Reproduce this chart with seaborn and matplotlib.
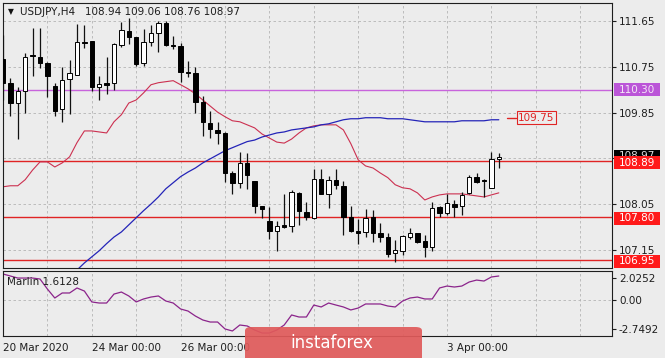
import numpy as np
import pandas as pd
import matplotlib
matplotlib.use('Agg')
import matplotlib.pyplot as plt
import seaborn as sns
from matplotlib.patches import Rectangle, FancyBboxPatch

# USDJPY H4 candles (20 Mar -> 6 Apr 2020)
opens = [110.91, 110.44, 110.04, 110.28, 110.97, 110.95, 110.83, 110.38, 109.92, 110.51,
         110.59, 111.24, 111.26, 110.36, 110.44, 110.44, 111.18, 111.46, 111.34, 110.83,
         111.24, 111.42, 111.62, 111.19, 111.16, 110.65, 110.63, 110.06, 109.65, 109.51,
         109.45, 108.66, 108.47, 108.86, 108.51, 108.01, 107.72, 107.52, 107.64, 107.62,
         108.27, 107.89, 107.78, 108.54, 108.25, 108.53, 108.41, 107.80, 107.52, 107.50,
         107.80, 107.48, 107.40, 107.09, 107.13, 107.40, 107.48, 107.32, 107.20, 107.99,
         107.87, 108.05, 108.01, 108.27, 108.58, 108.53, 108.37, 108.94]
highs = [111.38, 110.53, 110.36, 111.03, 111.52, 111.52, 110.85, 110.44, 110.75, 110.89,
         111.60, 111.58, 111.26, 110.57, 110.95, 111.22, 111.64, 111.72, 111.34, 111.50,
         111.58, 111.66, 111.66, 111.36, 111.22, 110.87, 110.75, 110.18, 109.88, 109.67,
         109.47, 108.70, 109.08, 109.06, 108.51, 108.01, 107.99, 107.72, 108.25, 108.33,
         108.29, 108.09, 108.74, 108.74, 108.60, 108.74, 108.51, 108.01, 107.76, 107.95,
         107.93, 107.68, 107.48, 107.34, 107.44, 107.58, 107.48, 107.44, 108.09, 108.01,
         108.25, 108.13, 108.29, 108.62, 108.66, 108.54, 109.08, 109.06]
lows = [110.10, 109.78, 109.33, 109.84, 110.57, 110.73, 110.16, 109.78, 109.67, 109.82,
        110.59, 111.12, 110.28, 110.10, 110.22, 110.30, 111.14, 111.20, 110.77, 110.77,
        111.16, 111.05, 111.16, 111.11, 110.46, 110.55, 109.84, 109.39, 109.35, 109.24,
        108.49, 108.25, 108.37, 108.35, 107.87, 107.78, 107.36, 107.13, 107.58, 107.50,
        107.64, 107.74, 107.76, 108.25, 107.97, 108.35, 107.44, 107.50, 107.27, 107.40,
        107.31, 107.31, 107.01, 106.91, 107.05, 107.36, 107.29, 107.01, 107.13, 107.80,
        107.83, 107.80, 107.83, 108.25, 108.47, 108.19, 108.37, 108.76]
closes = [110.44, 110.04, 110.28, 110.95, 110.96, 110.83, 110.57, 109.88, 110.50, 110.63,
          111.24, 111.22, 110.36, 110.42, 110.40, 111.20, 111.48, 111.34, 110.81, 111.24,
          111.42, 111.62, 111.18, 111.17, 110.65, 110.63, 110.06, 109.67, 109.53, 109.45,
          108.66, 108.47, 108.86, 108.62, 108.01, 107.95, 107.52, 107.62, 107.60, 108.29,
          107.91, 107.80, 108.54, 108.25, 108.53, 108.43, 107.80, 107.52, 107.48, 107.78,
          107.48, 107.40, 107.07, 107.15, 107.42, 107.48, 107.31, 107.20, 107.97, 107.87,
          108.07, 107.99, 108.23, 108.58, 108.49, 108.51, 108.94, 108.97]

# moving averages
ma_fast = [108.39, 108.41, 108.41, 108.53, 108.72, 108.88, 108.88, 108.78, 108.86, 108.98,
           109.26, 109.49, 109.49, 109.47, 109.45, 109.67, 109.81, 110.04, 110.10, 110.24,
           110.40, 110.44, 110.46, 110.48, 110.40, 110.32, 110.22, 110.10, 109.98, 109.86,
           109.77, 109.69, 109.67, 109.61, 109.55, 109.43, 109.35, 109.27, 109.25, 109.33,
           109.45, 109.55, 109.59, 109.61, 109.61, 109.61, 109.51, 109.24, 108.92, 108.80,
           108.76, 108.66, 108.57, 108.43, 108.37, 108.35, 108.27, 108.13, 108.19, 108.23,
           108.25, 108.25, 108.25, 108.23, 108.21, 108.19, 108.23, 108.27]
slow_start = 9
ma_slow = [106.60, 106.75, 106.89, 107.01, 107.13, 107.27, 107.40, 107.50, 107.64, 107.78,
           107.92, 108.05, 108.19, 108.35, 108.47, 108.59, 108.68, 108.76, 108.86, 108.94,
           109.02, 109.10, 109.16, 109.22, 109.28, 109.31, 109.37, 109.41, 109.45, 109.47,
           109.51, 109.53, 109.55, 109.57, 109.61, 109.63, 109.67, 109.71, 109.73, 109.73,
           109.75, 109.75, 109.75, 109.73, 109.73, 109.73, 109.71, 109.69, 109.67, 109.67,
           109.67, 109.67, 109.67, 109.69, 109.69, 109.69, 109.69, 109.71, 109.71]

# Marlin oscillator
marlin = [2.40, 2.21, 2.02, 2.02, 2.02, 1.93, 0.99, 0.15, 0.62, 0.62,
          1.09, 0.80, -0.22, -0.32, -0.32, 0.52, 0.71, 0.34, -0.22, 0.06,
          0.24, 0.34, -0.13, -0.32, -0.88, -1.07, -1.54, -1.91, -2.10, -2.10,
          -2.75, -2.94, -2.38, -2.47, -2.85, -3.13, -3.13, -2.85, -2.38, -1.44,
          -1.63, -1.63, -0.51, -0.69, -0.32, -0.51, -0.69, -0.97, -0.79, -0.41,
          -0.41, -0.41, -0.60, -0.69, -0.13, 0.15, 0.24, 0.06, 0.06, 1.09,
          1.27, 1.18, 1.27, 1.65, 1.83, 1.74, 2.12, 2.21]

date_labels = ['20 Mar 2020', '24 Mar 00:00', '26 Mar 00:00', '3 Apr 00:00']
date_pos = [0, 12, 24, 60]
price_ticks = [111.65, 110.75, 109.85, 108.95, 108.05, 107.15]
price_labels = ['111.65', '110.75', '109.85', '', '108.05', '107.15']
red_levels = [108.89, 107.80, 106.95]
violet_level = 110.30
last_price = 108.97
marlin_ticks = [-2.7492, 0.0, 2.0252]
marlin_labels = ['-2.7492', '0.00', '2.0252']

df = pd.DataFrame({'open': opens, 'high': highs, 'low': lows, 'close': closes,
                   'ma_fast': ma_fast, 'marlin': marlin})
df['bar'] = np.arange(len(df))
slow = pd.DataFrame({'bar': np.arange(slow_start, slow_start + len(ma_slow)), 'ma': ma_slow})

bg = '#ececec'
sns.set_style('white', rc={'axes.facecolor': bg, 'figure.facecolor': bg,
                           'axes.edgecolor': '#1e1e1e', 'axes.linewidth': 1.0})
plt.rcParams['font.family'] = ['DejaVu Sans']

fig = plt.figure(figsize=(6.65, 3.58), dpi=100)
ax = fig.add_axes([3 / 665, 90 / 358, 609 / 665, 265 / 358])
ax2 = fig.add_axes([3 / 665, 22 / 358, 609 / 665, 65 / 358])

xmax = 609 / 7.4
grid_kw = dict(color='#b4b4b4', ls=(0, (3, 3)), lw=0.6, zorder=0)
for gx in np.arange(0, xmax, 6):
    ax.axvline(gx, **grid_kw)
    ax2.axvline(gx, **grid_kw)
for p in price_ticks:
    ax.axhline(p, **grid_kw)
ax2.axhline(0, **grid_kw)

# level lines
for lv in red_levels:
    ax.axhline(lv, color='#e02424', lw=1.0, zorder=1)
ax.axhline(violet_level, color='#c864dc', lw=1.0, zorder=1)

# moving averages
sns.lineplot(data=df, x='bar', y='ma_fast', ax=ax, color='#cc3050', lw=0.8, zorder=2)
sns.lineplot(data=slow, x='bar', y='ma', ax=ax, color='#2424b8', lw=0.9, zorder=2)

# candles
up = df['close'] >= df['open']
body_lo = np.minimum(df['open'], df['close'])
body_h = np.maximum(np.abs(df['close'] - df['open']), 0.02)
ax.vlines(df['bar'], df['low'], df['high'], color='#111111', lw=0.9, zorder=3)
ax.bar(df['bar'], body_h, bottom=body_lo, width=0.62,
       color=np.where(up, 'white', 'black'), edgecolor='black', lw=0.7, zorder=4)

ax.set_xlim(0, xmax)
ax.set_ylim(106.79, 112.01)
ax.yaxis.tick_right()
ax.set_yticks(price_ticks)
ax.set_yticklabels(price_labels)
ax.set_xticks([])
ax.tick_params(axis='y', labelsize=7.5, length=3, pad=2, colors='#1e1e1e')
ax.set_xlabel('')
ax.set_ylabel('')

# right-side price boxes (later boxes sit on top of earlier ones)
def price_box(price, text, fc, tc, z, shift=0.03):
    yc = price - shift
    ax.add_patch(Rectangle((1.0033, yc - 0.128), 0.0755, 0.256,
                           transform=ax.get_yaxis_transform(), clip_on=False,
                           fc=fc, ec='none', zorder=z))
    ax.text(1.041, yc, text, transform=ax.get_yaxis_transform(), ha='center',
            va='center', fontsize=7.5, color=tc, clip_on=False, zorder=z + 0.1)

price_box(violet_level, '110.30', '#bb55d8', '#f4e6f6', 5, shift=0.0)
price_box(last_price, f'{last_price:.2f}', 'black', '#dddddd', 5, shift=-0.02)
for lv in red_levels:
    price_box(lv, f'{lv:.2f}', '#ff1a1a', 'white', 6)

# MA price label
ax.plot([68.1, 69.3], [109.75, 109.75], color='#e02424', lw=1.0, zorder=5)
ax.text(69.6, 109.75, '109.75', ha='left', va='center', fontsize=7.5, color='#e02424',
        bbox=dict(boxstyle='square,pad=0.12', fc=bg, ec='#e02424', lw=0.8), zorder=6)

# header
ax.text(0.013, 0.966, '\u25bc', transform=ax.transAxes, ha='center', va='center',
        fontsize=5.5, color='#111111')
ax.text(0.028, 0.966, 'USDJPY,H4   108.94 109.06 108.76 108.97', transform=ax.transAxes,
        ha='left', va='center', fontsize=7.5, color='#1e1e1e')

# lower panel
sns.lineplot(data=df, x='bar', y='marlin', ax=ax2, color='#8b248b', lw=0.9)
ax2.set_xlim(0, xmax)
ax2.set_ylim(-3.41, 2.68)
ax2.yaxis.tick_right()
ax2.set_yticks(marlin_ticks)
ax2.set_yticklabels(marlin_labels)
ax2.tick_params(axis='y', labelsize=7.5, length=3, pad=2, colors='#1e1e1e')
ax2.set_xticks(date_pos)
ax2.set_xticklabels(date_labels, ha='left')
ax2.tick_params(axis='x', labelsize=7.5, length=4, pad=1, colors='#1e1e1e')
ax2.set_xlabel('')
ax2.set_ylabel('')
ax2.text(0.007, 0.83, 'Marlin 1.6128', transform=ax2.transAxes, ha='left', va='center',
         fontsize=7.5, color='#1e1e1e')

# watermark
fig.patches.append(FancyBboxPatch((245 / 665, -0.05), 177 / 665, 0.05 + 31 / 358,
                                  boxstyle='round,pad=0,rounding_size=0.01',
                                  transform=fig.transFigure, fc='#e05a5a', ec='none',
                                  alpha=0.92, zorder=10))
fig.text(290 / 665, 15 / 358, 'instaforex', ha='left', va='center', fontsize=12,
         color='white', zorder=11)

fig.savefig('out.png', dpi=100, facecolor=fig.get_facecolor())
